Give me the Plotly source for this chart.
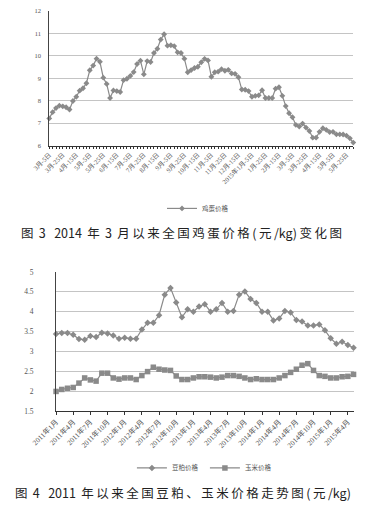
import plotly.graph_objects as go

# ---------------- Figure 3 data: egg price (yuan/kg), every 5 days from 2014-03-05 ----------------
egg_months = [(2014, m) for m in range(3, 13)] + [(2015, m) for m in range(1, 7)]
egg_days = [5, 10, 15, 20, 25, 30]
egg_dates = []
for (y, m) in egg_months:
    for d in egg_days:
        egg_dates.append(f"{y}年{m}月-{d}日")
egg_dates = egg_dates[:91]

egg_price = [7.21, 7.49, 7.67, 7.78, 7.75, 7.71, 7.61, 7.99, 8.18, 8.45,
             8.56, 8.78, 9.36, 9.57, 9.88, 9.74, 9.03, 8.75, 8.12, 8.46,
             8.43, 8.39, 8.92, 8.98, 9.11, 9.28, 9.64, 9.79, 9.18, 9.77,
             9.73, 10.13, 10.32, 10.73, 10.97, 10.46, 10.48, 10.44, 10.16, 10.13,
             9.88, 9.27, 9.37, 9.46, 9.52, 9.72, 9.87, 9.80, 9.07, 9.27,
             9.30, 9.41, 9.34, 9.38, 9.22, 9.20, 9.05, 8.50, 8.49, 8.43,
             8.18, 8.22, 8.24, 8.47, 8.12, 8.12, 8.12, 8.54, 8.60, 8.22,
             7.76, 7.44, 7.26, 6.92, 6.85, 6.98, 6.80, 6.65, 6.35, 6.35,
             6.61, 6.77, 6.70, 6.60, 6.61, 6.50, 6.50, 6.49, 6.44, 6.32,
             6.13]

egg_tick_labels = ["3月-5日", "3月-25日", "4月-15日", "5月-5日", "5月-25日", "6月-15日",
                   "7月-5日", "7月-25日", "8月-15日", "9月-5日", "9月-25日", "10月-15日",
                   "11月-5日", "11月-25日", "12月-15日", "2015年1月-5日", "1月-25日",
                   "2月-15日", "3月-5日", "3月-25日", "4月-15日", "5月-5日", "5月-25日"]

# ---------------- Figure 4 data: soybean meal & corn price (yuan/kg), monthly from 2011-01 ----------------
feed_months = []
for y in range(2011, 2016):
    for m in range(1, 13):
        feed_months.append(f"{y}年{m}月")
feed_months = feed_months[:53]

soy_price = [3.44, 3.46, 3.46, 3.42, 3.31, 3.29, 3.39, 3.36, 3.47, 3.45,
             3.40, 3.32, 3.34, 3.32, 3.32, 3.55, 3.72, 3.72, 3.91, 4.43,
             4.60, 4.23, 3.86, 4.06, 4.00, 4.13, 4.19, 4.00, 4.06, 4.22,
             4.00, 4.02, 4.43, 4.51, 4.32, 4.22, 4.00, 4.00, 3.78, 3.83,
             4.02, 3.98, 3.79, 3.75, 3.65, 3.65, 3.68, 3.53, 3.33, 3.19,
             3.24, 3.16, 3.09]
corn_price = [1.99, 2.04, 2.07, 2.09, 2.20, 2.33, 2.28, 2.25, 2.45, 2.45,
              2.33, 2.30, 2.33, 2.33, 2.29, 2.39, 2.49, 2.60, 2.55, 2.53,
              2.52, 2.38, 2.29, 2.29, 2.33, 2.36, 2.36, 2.35, 2.33, 2.35,
              2.39, 2.39, 2.37, 2.33, 2.29, 2.31, 2.29, 2.29, 2.29, 2.33,
              2.39, 2.47, 2.55, 2.65, 2.69, 2.52, 2.39, 2.37, 2.33, 2.33,
              2.36, 2.37, 2.42]

caption3 = "图 3   2014 年 3 月以来全国鸡蛋价格(元/kg)变化图"
caption4 = "图 4   2011 年以来全国豆粕、玉米价格走势图(元/kg)"

W, H = 371, 523
def px(x):
    return x / W
def py(y):
    return 1 - y / H

def spaced(s):
    # typographic letter-spacing between CJK characters (thin spaces)
    out = ""
    for i, ch in enumerate(s):
        out += ch
        if i < len(s) - 1 and (ord(ch) > 0x2E80 or ord(s[i + 1]) > 0x2E80):
            out += "\u2009"
    return out

GRAY = "#8a8a8a"
GRID = "#c4c4c4"
AXIS = "#444444"
TICKFONT = dict(family="Liberation Serif, Noto Sans CJK SC", size=7, color="#555555")
CJK = "Noto Sans CJK SC"

fig = go.Figure()

fig.add_trace(go.Scatter(
    x=egg_dates, y=egg_price, name="鸡蛋价格", mode="lines+markers",
    line=dict(color=GRAY, width=1.2),
    marker=dict(symbol="diamond", size=4.5, color=GRAY),
    xaxis="x", yaxis="y", legend="legend", cliponaxis=False))

fig.add_trace(go.Scatter(
    x=feed_months, y=soy_price, name="豆粕价格", mode="lines+markers",
    line=dict(color=GRAY, width=1.2),
    marker=dict(symbol="diamond", size=5, color=GRAY),
    xaxis="x2", yaxis="y2", legend="legend2", cliponaxis=False))

fig.add_trace(go.Scatter(
    x=feed_months, y=corn_price, name="玉米价格", mode="lines+markers",
    line=dict(color=GRAY, width=1.2),
    marker=dict(symbol="square", size=5.5, color=GRAY),
    xaxis="x2", yaxis="y2", legend="legend2", cliponaxis=False))

egg_ticktext = []
for i, d in enumerate(egg_dates):
    egg_ticktext.append(egg_tick_labels[i // 4] if i % 4 == 0 and i // 4 < len(egg_tick_labels) else "")

fig.update_layout(
    width=W, height=H, autosize=False,
    margin=dict(l=0, r=0, t=0, b=0),
    paper_bgcolor="white", plot_bgcolor="white",
    showlegend=True,
    xaxis=dict(domain=[px(26), px(352)], anchor="y", type="category",
               range=[0, len(egg_dates) - 1],
               tickmode="array", tickvals=egg_dates, ticktext=egg_ticktext,
               tickangle=-45, tickfont=dict(TICKFONT, size=6.5),
               ticks="outside", ticklen=2, tickwidth=1, tickcolor="#333",
               showline=True, linecolor="#333", linewidth=1.2,
               showgrid=False, zeroline=False),
    yaxis=dict(domain=[py(144), py(7.3)], anchor="x",
               range=[6, 12], dtick=1, tick0=6,
               tickfont=dict(TICKFONT, size=6.5),
               ticklabelstandoff=6,
               showline=True, linecolor=AXIS, linewidth=1,
               showgrid=True, gridcolor=GRID, gridwidth=1, zeroline=False),
    xaxis2=dict(domain=[px(33.3), px(352.3)], anchor="y2", type="category",
                range=[0, len(feed_months) - 1],
                tickmode="array", tickvals=feed_months[::3], ticktext=feed_months[::3],
                tickangle=-45, tickfont=dict(TICKFONT, size=7.3),
                ticks="outside", ticklen=3, tickwidth=1, tickcolor="#333",
                showline=True, linecolor="#333", linewidth=1.2,
                showgrid=False, zeroline=False),
    yaxis2=dict(domain=[py(414), py(272.7)], anchor="x2",
                range=[1.5, 5], dtick=0.5, tick0=1.5,
                tickfont=dict(TICKFONT, size=7.5),
                ticklabelstandoff=20,
                showline=True, linecolor=AXIS, linewidth=1,
                showgrid=True, gridcolor=GRID, gridwidth=1, zeroline=False),
    legend=dict(x=0.5, xanchor="center", y=py(208), yanchor="middle",
                orientation="h", font=dict(family=CJK, size=6.5, color="#555"),
                bgcolor="rgba(0,0,0,0)", itemwidth=30),
    legend2=dict(x=0.52, xanchor="center", y=py(472), yanchor="middle",
                 orientation="h", font=dict(family=CJK, size=6.5, color="#555"),
                 bgcolor="rgba(0,0,0,0)", itemwidth=30,
                 entrywidth=28, entrywidthmode="pixels"),
)

fig.add_annotation(text=spaced(caption3),
                   x=px(168), y=py(232), xref="paper", yref="paper",
                   showarrow=False, xanchor="center", yanchor="middle",
                   font=dict(family=CJK, size=12.5, color="#222"))
fig.add_annotation(text=spaced(caption4),
                   x=px(169), y=py(497), xref="paper", yref="paper",
                   showarrow=False, xanchor="center", yanchor="middle",
                   font=dict(family=CJK, size=12.5, color="#222"))

fig.write_html("out.html",
               config={"displayModeBar": False},
               post_script="document.body.style.margin='0';document.body.style.padding='0';")
